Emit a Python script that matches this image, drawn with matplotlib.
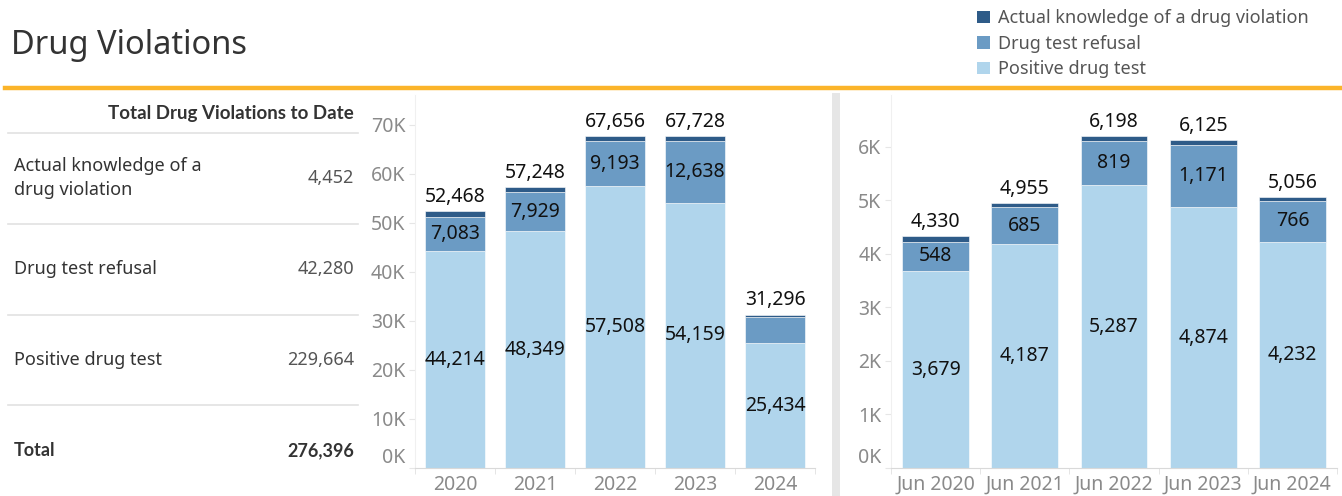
import matplotlib.pyplot as plt
import numpy as np
from matplotlib.patches import Patch, Rectangle
from matplotlib.lines import Line2D

plt.rcParams["font.family"] = ["Noto Sans", "DejaVu Sans"]
BOLD_FONT = ["Lato", "Roboto", "DejaVu Sans"]

# Data
years = ["2020", "2021", "2022", "2023", "2024"]
positive_year = [44214, 48349, 57508, 54159, 25434]
refusal_year = [7083, 7929, 9193, 12638, 5437]
actual_year = [1171, 970, 955, 931, 425]

months = ["Jun 2020", "Jun 2021", "Jun 2022", "Jun 2023", "Jun 2024"]
positive_jun = [3679, 4187, 5287, 4874, 4232]
refusal_jun = [548, 685, 819, 1171, 766]
actual_jun = [103, 83, 92, 80, 58]

series_names = ["Actual knowledge of a drug violation", "Drug test refusal", "Positive drug test"]
colors = ["#2e5b88", "#6b9bc4", "#b0d5ec"]

table_rows = ["Actual knowledge of a\ndrug violation", "Drug test refusal", "Positive drug test"]
table_values = [4452, 42280, 229664]

W, H = 1342, 496
fig = plt.figure(figsize=(W / 100, H / 100), dpi=100)


def px_axes(x0, y0, x1, y1):
    # pixel box (top-left origin) -> figure axes
    return fig.add_axes([x0 / W, 1 - y1 / H, (x1 - x0) / W, (y1 - y0) / H])


def fx(x):
    return x / W


def fy(y):
    return 1 - y / H


# Header
fig.text(fx(11), fy(45), "Drug Violations", fontsize=23.5, color="#333333", va="center", ha="left")
fig.add_artist(Line2D([fx(5), fx(1342)], [fy(88), fy(88)], color="#fbb42a", lw=3.2))

handles = [Patch(facecolor=c, edgecolor="none") for c in colors]
fig.legend(handles, series_names, loc="upper left", bbox_to_anchor=(fx(970), fy(2)),
           frameon=False, fontsize=13, labelcolor="#555555", handlelength=0.7,
           handleheight=0.7, handletextpad=0.45, labelspacing=0.42, borderaxespad=0)

# Left summary table
fig.text(fx(354), fy(113), "Total Drug Violations to Date", fontsize=13.5, fontweight="bold",
         family=BOLD_FONT, color="#333333", ha="right", va="center")
for yy in [133, 224, 315, 405]:
    fig.add_artist(Line2D([fx(8), fx(358)], [fy(yy), fy(yy)], color="#e2e2e2", lw=1.2))
row_y = [178, 269, 360]
for label, val, yy in zip(table_rows, table_values, row_y):
    fig.text(fx(14), fy(yy), label, fontsize=13, color="#333333", ha="left", va="center",
             linespacing=1.4)
    fig.text(fx(354), fy(yy), f"{val:,}", fontsize=13, color="#555555", ha="right", va="center")
fig.text(fx(14), fy(451), "Total", fontsize=13, fontweight="bold", family=BOLD_FONT,
         color="#333333", va="center")
fig.text(fx(354), fy(451), f"{sum(table_values):,}", fontsize=13, fontweight="bold",
         family=BOLD_FONT, color="#333333", ha="right", va="center")

# Gray divider between charts
fig.add_artist(Rectangle((fx(832), 0), fx(8), fy(93), color="#e6e6e6", lw=0))


def stacked(ax, cats, pos, ref, act, ymax, ticks, width, hide_ref_label):
    x = np.arange(len(cats))
    pos = np.array(pos)
    ref = np.array(ref)
    act = np.array(act)
    ax.bar(x, pos, width, color=colors[2], edgecolor="white", linewidth=0.4)
    ax.bar(x, ref, width, bottom=pos, color=colors[1], edgecolor="white", linewidth=0.4)
    ax.bar(x, act, width, bottom=pos + ref, color=colors[0], edgecolor="white", linewidth=0.4)
    total = pos + ref + act
    for i in range(len(cats)):
        ax.text(x[i], pos[i] / 2, f"{pos[i]:,}", ha="center", va="center", fontsize=14,
                color="#111111")
        if i not in hide_ref_label:
            ax.text(x[i], pos[i] + ref[i] / 2, f"{ref[i]:,}", ha="center", va="center",
                    fontsize=14, color="#111111")
        ax.annotate(f"{total[i]:,}", (x[i], total[i]), xytext=(0, 3), textcoords="offset points",
                    ha="center", va="bottom", fontsize=14, color="#111111")
    ax.set_xlim(-0.5, len(cats) - 0.5)
    ax.set_ylim(0, ymax)
    ax.set_xticks(x)
    ax.set_xticklabels(cats)
    ax.set_xticks(np.arange(len(cats) + 1) - 0.5, minor=True)
    ax.set_yticks(ticks)
    ax.set_yticklabels([f"{int(t / 1000)}K" for t in ticks])
    ax.get_yticklabels()[0].set_va("bottom")
    ax.tick_params(axis="x", which="major", length=0, labelsize=14, labelcolor="#8a8a8a", pad=5)
    ax.tick_params(axis="x", which="minor", length=4, color="#e0e0e0")
    ax.tick_params(axis="y", length=4, color="#e6e6e6", labelsize=14, labelcolor="#8a8a8a", pad=3)
    for s in ["top", "right"]:
        ax.spines[s].set_visible(False)
    ax.spines["left"].set_color("#f0f0f0")
    ax.spines["bottom"].set_color("#d9d9d9")


ax1 = px_axes(415, 95, 815, 468)
stacked(ax1, years, positive_year, refusal_year, actual_year, 76100,
        np.arange(0, 70001, 10000), 0.74, hide_ref_label=[4])

ax2 = px_axes(891, 95, 1337, 468)
stacked(ax2, months, positive_jun, refusal_jun, actual_jun, 6970,
        np.arange(0, 6001, 1000), 0.75, hide_ref_label=[])

fig.savefig("out.png", dpi=100)
